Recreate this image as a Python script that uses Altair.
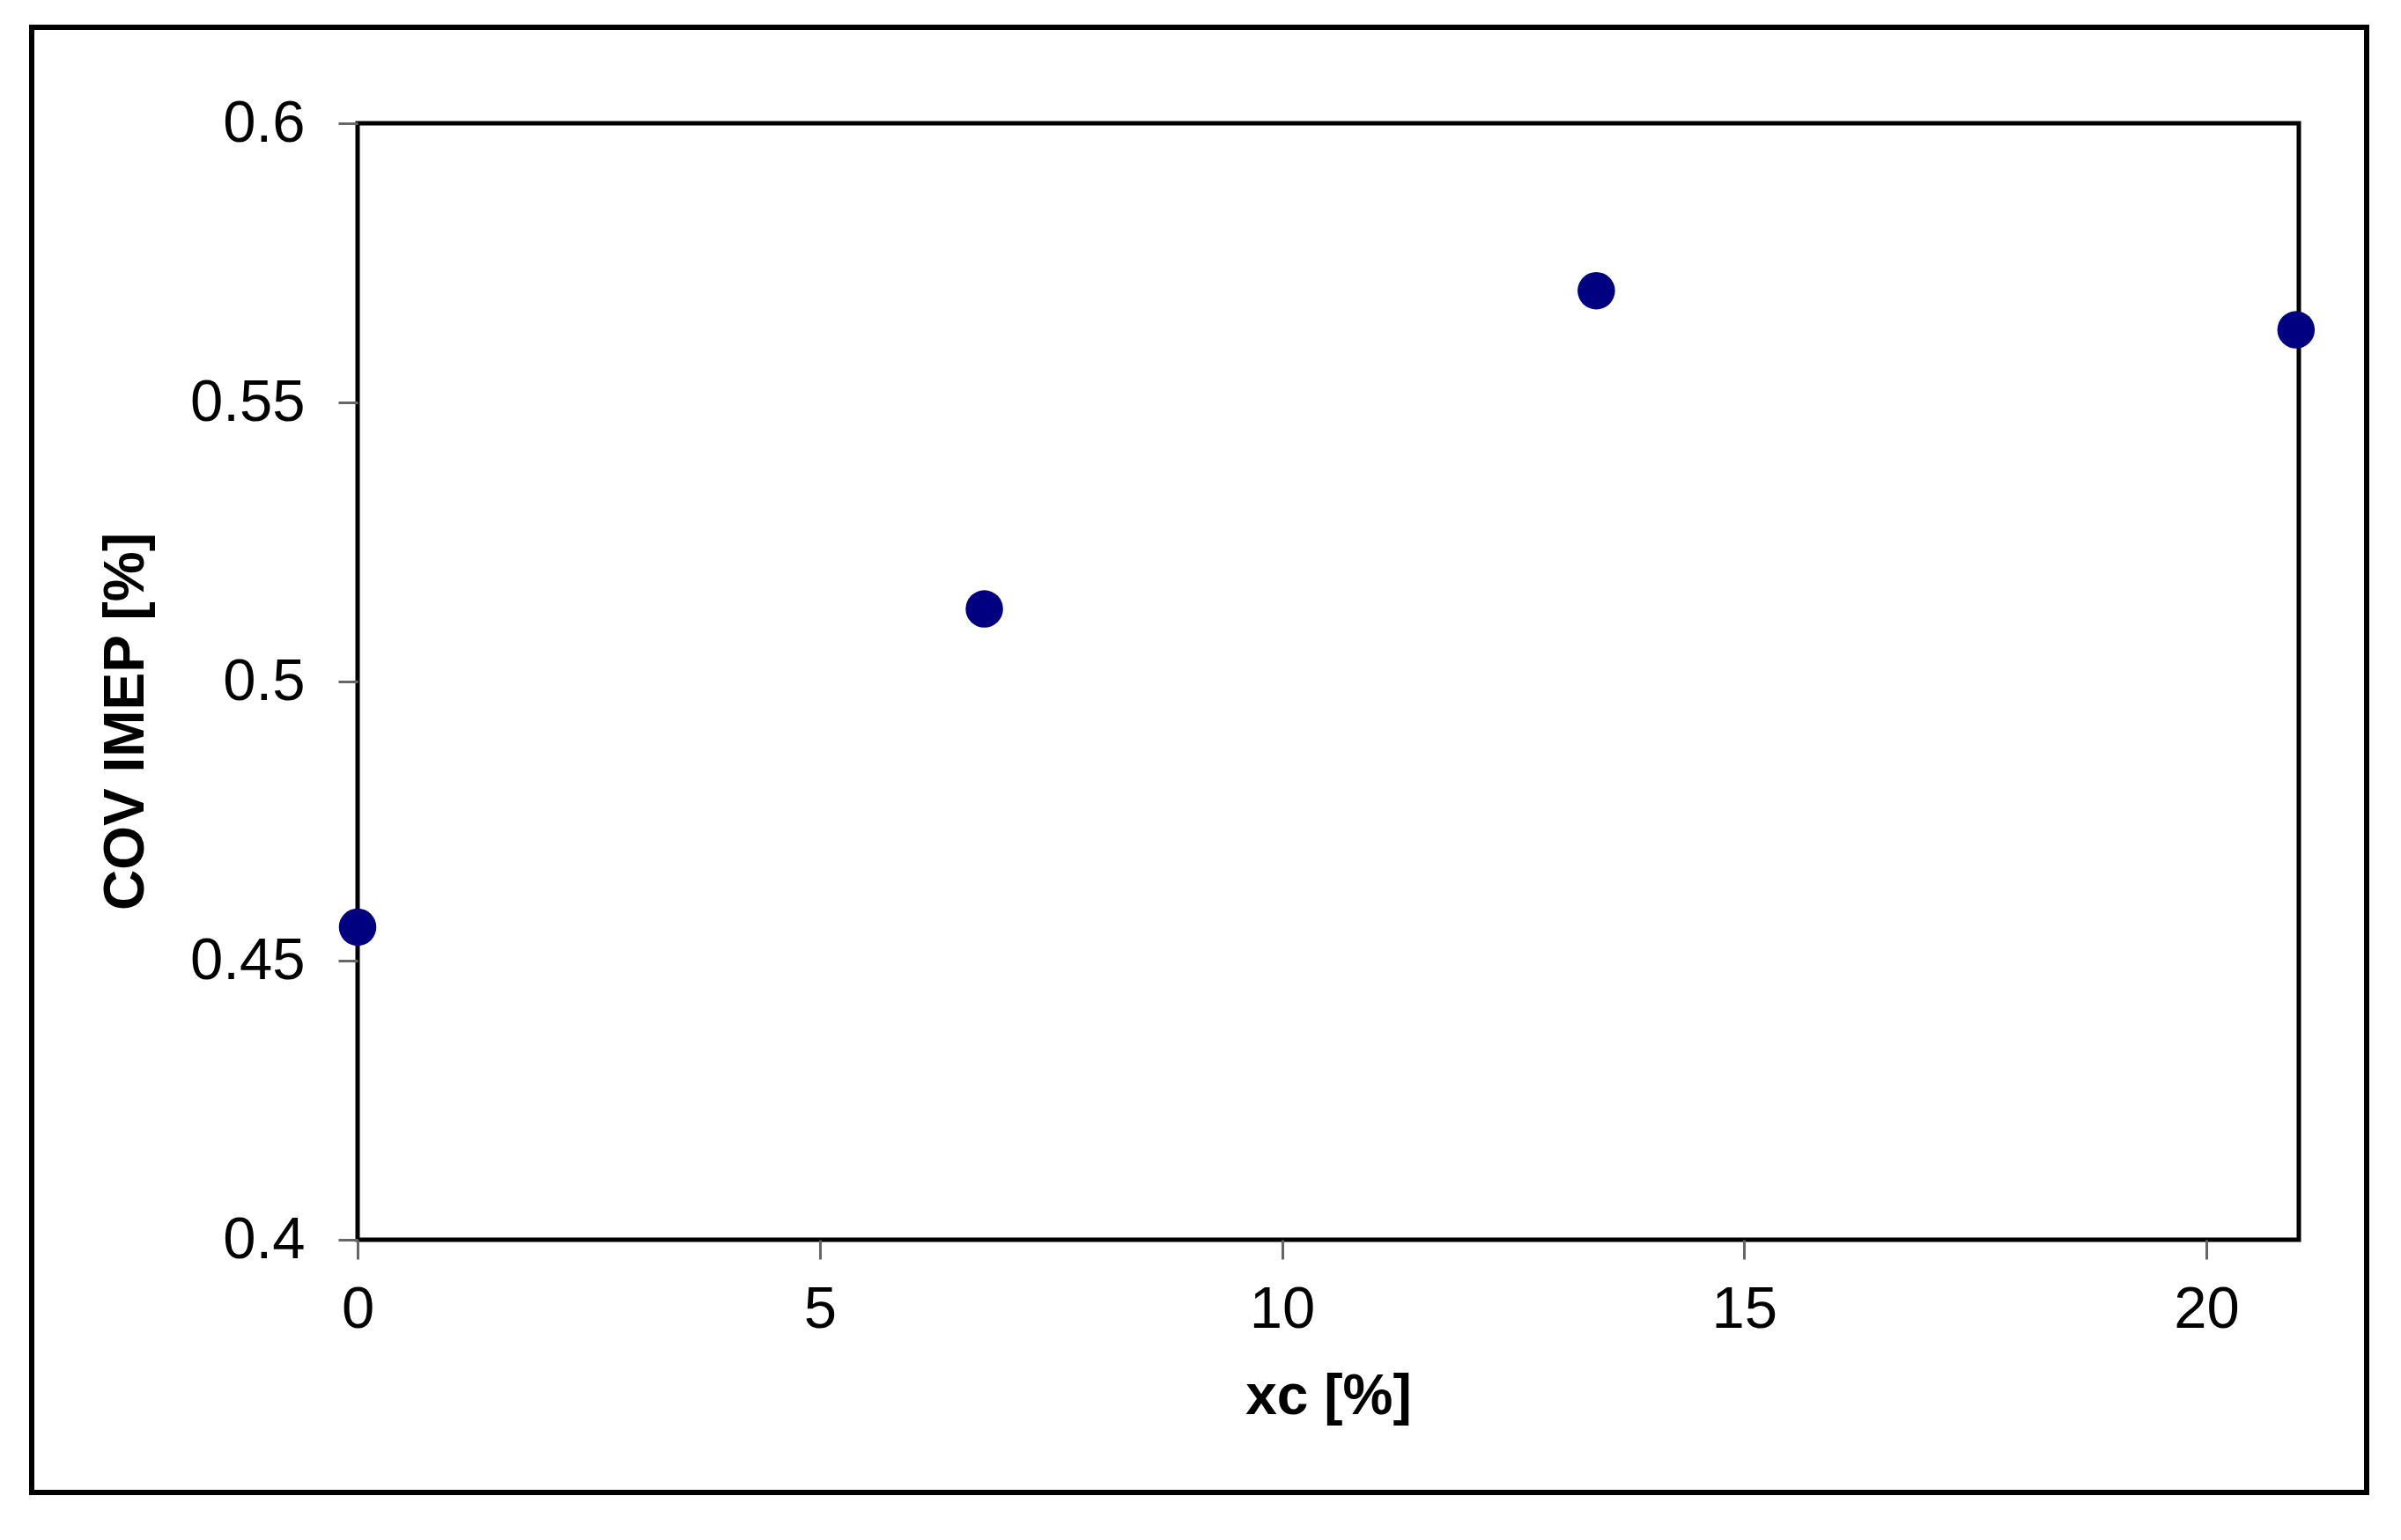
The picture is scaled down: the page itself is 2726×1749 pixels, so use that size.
import altair as alt
import pandas as pd

xc = [0.0, 6.78, 13.40, 20.97]
cov_imep = [0.456, 0.513, 0.570, 0.563]
x_ticks = [0, 5, 10, 15, 20]
y_ticks = [0.4, 0.45, 0.5, 0.55, 0.6]

df = pd.DataFrame({"xc": xc, "cov": cov_imep})

W, H = 2204, 1268
FONT = "Liberation Sans"

frame = alt.Chart(pd.DataFrame({"a": [0]})).mark_rect(
    fill=None, stroke="black", strokeWidth=6, filled=False
).encode(
    x=alt.value(-370), x2=alt.value(W + 77),
    y=alt.value(-109), y2=alt.value(H + 287),
)

points = alt.Chart(df).mark_circle(size=1810, color="#000080", opacity=1).encode(
    x=alt.X("xc:Q", scale=alt.Scale(domain=[0, 21], nice=False, zero=False),
            axis=alt.Axis(values=x_ticks, title="xc [%]", format="d",
                          labelFlush=False,
                          titleY=178, titleBaseline="middle")),
    y=alt.Y("cov:Q", scale=alt.Scale(domain=[0.4, 0.6], nice=False, zero=False),
            axis=alt.Axis(values=y_ticks, title="COV IMEP [%]", format=".2~f",
                          labelFlush=False,
                          titleX=-263, titleY=H / 2 + 45, titleAngle=270,
                          titleBaseline="middle", titleAlign="center")),
)

chart = alt.layer(frame, points).properties(
    width=W, height=H,
    autosize=alt.AutoSizeParams(type="none"),
    padding={"left": 398, "top": 132, "right": 108, "bottom": 333},
    background="white",
).configure_view(
    stroke="black", strokeWidth=5
).configure_axis(
    grid=False, domain=False,
    ticks=True, tickSize=22, tickWidth=3, tickColor="#666666",
    labelFont=FONT, labelFontSize=67, labelColor="black",
    titleFont=FONT, titleFontSize=64, titleFontWeight="bold", titleColor="black",
).configure_axisX(labelPadding=24).configure_axisY(labelPadding=38)

chart.save("out.html", embed_options={"renderer": "svg", "actions": False})
